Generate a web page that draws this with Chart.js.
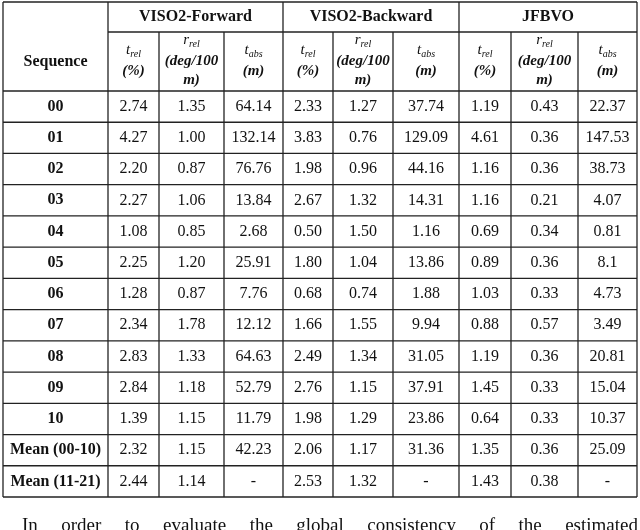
<!DOCTYPE html>
<html><head><meta charset="utf-8">
<script src="https://cdn.jsdelivr.net/npm/chart.js@4"></script>
<style>html,body{margin:0;padding:0;background:#fff}#w{width:640px;height:530px}</style>
</head><body><div id="w"><canvas id="c"></canvas></div>
<script>
const groups = ["VISO2-Forward","VISO2-Backward","JFBVO"];
const sequences = ["00","01","02","03","04","05","06","07","08","09","10","Mean (00-10)","Mean (11-21)"];
const viso2Forward = [
 ["2.74","1.35","64.14"],["4.27","1.00","132.14"],["2.20","0.87","76.76"],["2.27","1.06","13.84"],
 ["1.08","0.85","2.68"],["2.25","1.20","25.91"],["1.28","0.87","7.76"],["2.34","1.78","12.12"],
 ["2.83","1.33","64.63"],["2.84","1.18","52.79"],["1.39","1.15","11.79"],["2.32","1.15","42.23"],["2.44","1.14","-"]];
const viso2Backward = [
 ["2.33","1.27","37.74"],["3.83","0.76","129.09"],["1.98","0.96","44.16"],["2.67","1.32","14.31"],
 ["0.50","1.50","1.16"],["1.80","1.04","13.86"],["0.68","0.74","1.88"],["1.66","1.55","9.94"],
 ["2.49","1.34","31.05"],["2.76","1.15","37.91"],["1.98","1.29","23.86"],["2.06","1.17","31.36"],["2.53","1.32","-"]];
const jfbvo = [
 ["1.19","0.43","22.37"],["4.61","0.36","147.53"],["1.16","0.36","38.73"],["1.16","0.21","4.07"],
 ["0.69","0.34","0.81"],["0.89","0.36","8.1"],["1.03","0.33","4.73"],["0.88","0.57","3.49"],
 ["1.19","0.36","20.81"],["1.45","0.33","15.04"],["0.64","0.33","10.37"],["1.35","0.36","25.09"],["1.43","0.38","-"]];
const seriesList = [viso2Forward, viso2Backward, jfbvo];

const colEdges = [3,108,159,224,283,333,393,459,511,578,637];
const rowEdges = [2,32,91];
const rowH = (497-91)/13;
for (let i=1;i<=13;i++) rowEdges.push(91+rowH*i);

const SERIF = '"Liberation Serif","DejaVu Serif",serif';
const tablePlugin = {
 id:'table',
 afterDraw(chart){
  const ctx = chart.ctx, X = chart.scales.x, Y = chart.scales.y;
  const px = v=>X.getPixelForValue(v), py = v=>Y.getPixelForValue(v);
  ctx.save();
  ctx.strokeStyle='#222'; ctx.lineWidth=1.3;
  const L=colEdges[0], R=colEdges[colEdges.length-1], T=rowEdges[0], B=rowEdges[rowEdges.length-1];
  rowEdges.forEach((y,i)=>{
   ctx.beginPath();
   const x0 = (i===1)? colEdges[1] : L;
   ctx.moveTo(px(x0),py(y)); ctx.lineTo(px(R),py(y)); ctx.stroke();
  });
  colEdges.forEach((x,i)=>{
   const major = (i===0||i===1||i===4||i===7||i===10);
   ctx.beginPath();
   ctx.moveTo(px(x), py(major?T:rowEdges[1])); ctx.lineTo(px(x),py(B)); ctx.stroke();
  });
  ctx.fillStyle='#111'; ctx.textAlign='center'; ctx.textBaseline='middle';
  ctx.font='bold 16px '+SERIF;
  groups.forEach((g,i)=>{
   ctx.fillText(g, px((colEdges[1+3*i]+colEdges[4+3*i])/2), py((rowEdges[0]+rowEdges[1])/2));
  });
  ctx.fillText('Sequence', px((colEdges[0]+colEdges[1])/2), py((rowEdges[1]+rowEdges[2])/2));
  const hy = (rowEdges[1]+rowEdges[2])/2;
  function sub(cx, letter, subs, lines){
   const n = lines.length+1, lh=19, y0 = hy - (n-1)*lh/2;
   ctx.font='italic 15px '+SERIF;
   const w1 = ctx.measureText(letter).width;
   ctx.font='italic 10px '+SERIF;
   const w2 = ctx.measureText(subs).width;
   const sx = px(cx) - (w1+w2)/2;
   ctx.textAlign='left';
   ctx.font='italic 15px '+SERIF; ctx.fillText(letter, sx, py(y0)-2);
   ctx.font='italic 10px '+SERIF; ctx.fillText(subs, sx+w1, py(y0)+2);
   ctx.textAlign='center';
   ctx.font='bold italic 15px '+SERIF;
   lines.forEach((l,k)=>ctx.fillText(l, px(cx), py(y0+(k+1)*lh)));
  }
  for (let g=0; g<3; g++){
   const c = 1+3*g;
   sub((colEdges[c]+colEdges[c+1])/2,'t','rel',['(%)']);
   sub((colEdges[c+1]+colEdges[c+2])/2,'r','rel',['(deg/100','m)']);
   sub((colEdges[c+2]+colEdges[c+3])/2,'t','abs',['(m)']);
  }
  sequences.forEach((s,r)=>{
   const cy = py((rowEdges[r+2]+rowEdges[r+3])/2);
   ctx.font='bold 16px '+SERIF;
   ctx.fillText(s, px((colEdges[0]+colEdges[1])/2), cy);
   ctx.font='16px '+SERIF;
   seriesList.forEach((ser,g)=>{
    ser[r].forEach((v,k)=>{
     const c=1+3*g+k;
     ctx.fillText(v, px((colEdges[c]+colEdges[c+1])/2), cy);
    });
   });
  });
  // justified following text
  ctx.font='19px '+SERIF; ctx.textAlign='left';
  const words = 'In order to evaluate the global consistency of the estimated'.split(' ');
  const total = words.reduce((a,w)=>a+ctx.measureText(w).width,0);
  const x0 = px(22), x1 = px(638);
  const gap = (x1-x0-total)/(words.length-1);
  let x = x0;
  words.forEach(w=>{ ctx.fillText(w, x, py(526)); x += ctx.measureText(w).width + gap; });
  ctx.restore();
 }
};

new Chart(document.getElementById('c'), {
 type:'scatter',
 data:{datasets:[{data:[]}]},
 options:{
  responsive:true, maintainAspectRatio:false, animation:false,
  layout:{padding:0},
  plugins:{legend:{display:false}, tooltip:{enabled:false}},
  scales:{
   x:{type:'linear',min:0,max:640,display:false},
   y:{type:'linear',min:0,max:530,reverse:true,display:false}
  }
 },
 plugins:[tablePlugin]
});
</script></body></html>
